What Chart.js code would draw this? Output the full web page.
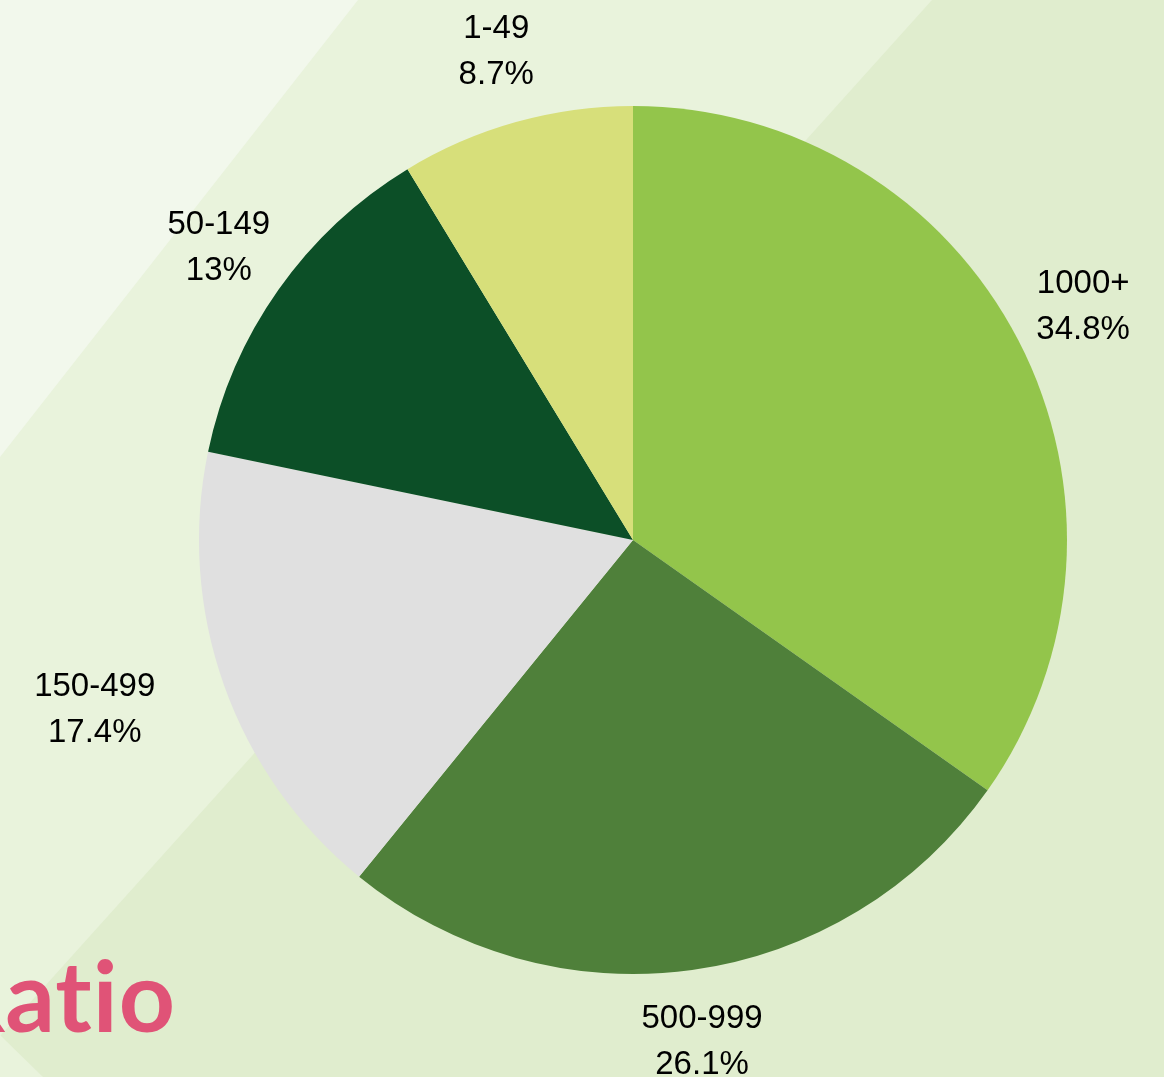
<!DOCTYPE html>
<html>
<head>
<meta charset="utf-8">
<title>Ratio</title>
<script src="https://cdn.jsdelivr.net/npm/chart.js@4.4.1/dist/chart.umd.min.js"></script>
<style>
  html, body { margin: 0; padding: 0; overflow: hidden; }
  body { width: 1164px; height: 1077px; position: relative; }
  #wrap { position: absolute; left: 0; top: 0; width: 1164px; height: 1077px; }
  .title {
    position: absolute; left: -58px; top: 945px;
    font-family: Lato, "Open Sans", sans-serif; font-weight: 700; font-size: 98px;
    font-variant-ligatures: none; font-feature-settings: "liga" 0, "dlig" 0;
    letter-spacing: 1px;
    line-height: 1; color: #e05377; white-space: nowrap;
  }
</style>
</head>
<body>
<div id="wrap"><canvas id="pieChart" width="1164" height="1077"></canvas></div>
<div class="title">Ratio</div>

<script>
// number of schools by size band
const categories = ['1000+', '500-999', '150-499', '50-149', '1-49'];
const counts = [8, 6, 4, 3, 2];
const sliceColors = ['#93c54b', '#4f803a', '#e0e0e0', '#0c4f27', '#d7df7a'];

const total = counts.reduce((a, b) => a + b, 0);
const pct = v => +(v / total * 100).toFixed(1) + '%';

// diagonal background bands
const backdrop = {
  id: 'backdrop',
  beforeDraw(chart) {
    const c = chart.ctx;
    c.save();
    c.fillStyle = '#e0edce';
    c.fillRect(0, 0, chart.width, chart.height);
    c.fillStyle = '#e9f3dc';
    c.beginPath(); c.moveTo(0, 0); c.lineTo(932, 0); c.lineTo(0, 1036); c.closePath(); c.fill();
    c.beginPath(); c.moveTo(0, 1035); c.lineTo(43, 1077); c.lineTo(0, 1077); c.closePath(); c.fill();
    c.fillStyle = '#f2f8ec';
    c.beginPath(); c.moveTo(0, 0); c.lineTo(358, 0); c.lineTo(0, 457); c.closePath(); c.fill();
    c.restore();
  }
};

// two-line labels outside each slice
const outsideLabels = {
  id: 'outsideLabels',
  afterDatasetsDraw(chart) {
    const c = chart.ctx;
    const meta = chart.getDatasetMeta(0);
    c.save();
    c.font = '33px "Liberation Sans", Arial, sans-serif';
    c.fillStyle = '#000';
    c.textBaseline = 'middle';
    c.textAlign = 'center';
    meta.data.forEach((arc, i) => {
      const p = arc.getProps(['x', 'y', 'startAngle', 'endAngle', 'outerRadius'], true);
      const mid = (p.startAngle + p.endAngle) / 2;
      const d = p.outerRadius + 73;
      let x = p.x + Math.cos(mid) * d;
      const y = p.y + Math.sin(mid) * d;
      const cs = Math.cos(mid);
      const lines = [categories[i], pct(counts[i])];
      // near-horizontal labels sit beside the anchor instead of on it
      if (Math.abs(cs) > 0.92) {
        const w = Math.max(...lines.map(t => c.measureText(t).width));
        x += Math.sign(cs) * w / 2;
      }
      c.fillText(lines[0], x, y - 23);
      c.fillText(lines[1], x, y + 23);
    });
    c.restore();
  }
};

const ctx = document.getElementById('pieChart').getContext('2d');
const pieChart = new Chart(ctx, {
  type: 'pie',
  data: {
    labels: categories,
    datasets: [{
      data: counts,
      backgroundColor: sliceColors,
      borderWidth: 0,
      hoverOffset: 0
    }]
  },
  options: {
    responsive: false,
    animation: false,
    devicePixelRatio: 1,
    layout: { padding: { left: 199, right: 97, top: 106, bottom: 103 } },
    plugins: {
      legend: { display: false },
      tooltip: { enabled: false }
    }
  },
  plugins: [backdrop, outsideLabels]
});
</script>
</body>
</html>
